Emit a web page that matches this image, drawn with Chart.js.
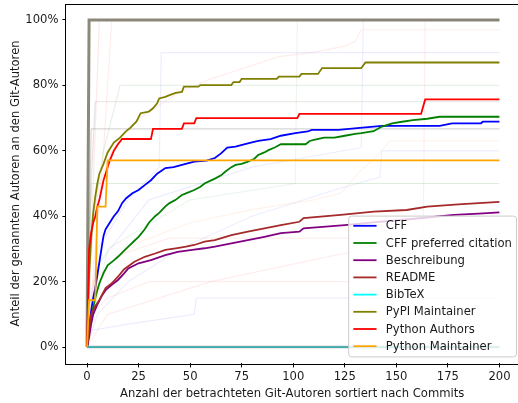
<!DOCTYPE html>
<html>
<head>
<meta charset="utf-8">
<script src="https://cdn.jsdelivr.net/npm/chart.js@4.4.0/dist/chart.umd.min.js"></script>
<style>
html, body { margin: 0; padding: 0; background: #fff; }
</style>
</head>
<body>
<canvas id="chart" width="518" height="403"></canvas>
<script>
// axis ticks
var xTicks = [0, 25, 50, 75, 100, 125, 150, 175, 200];
var yTicks = [0, 20, 40, 60, 80, 100];

var names = ["CFF", "CFF preferred citation", "Beschreibung", "README", "BibTeX",
             "PyPI Maintainer", "Python Authors", "Python Maintainer"];
var colors = ["#0000ff", "#008000", "#800080", "#a52a2a", "#00ffff",
              "#808000", "#ff0000", "#ffa500"];

// [authors, percent] breakpoints
var cff = [[0,0],[1,6],[2,11],[3,15],[4,18],[5,22],[6,26],[7,30],[8,34],[9,36],[11,38],[13,40],
  [15,41.5],[17,44],[19,45.5],[22,47],[25,48],[28,49.5],[31,51],[34,53],[38,54.7],[42,55],
  [46,55.7],[52,56.7],[58,57],[62,57.8],[65,59.2],[68,61],[72,61.3],[78,62.3],[83,63],
  [89,63.6],[94,64.6],[101,65.4],[107,65.9],[109,66.4],[122,66.4],[131,66.9],[143,67.6],
  [171,67.6],[177,68.4],[191,68.4],[192,68.9],[200,68.9]];
var cffPreferred = [[0,0],[1,5],[2,9],[3,12],[4,15],[5,17.4],[6,19.5],[8,22.6],[10,25],[13,26.5],
  [15,27.6],[18,29.5],[20,30.7],[23,32.5],[25,33.7],[28,36],[30,38],[33,40],[35,41],[38,43],
  [40,44],[43,45],[46,46.5],[48,47],[52,48],[55,49],[57,50],[62,51.5],[65,52.5],[67,53.6],
  [70,55],[72,55.7],[75,56],[78,56.7],[81,57.5],[83,58.7],[86,59.5],[88,60.2],[91,61],
  [94,62],[106,62],[108,63],[110,63.3],[115,64],[120,64],[125,64.6],[130,65.2],[133,65.4],
  [139,66],[143,67.4],[148,68.4],[152,68.8],[158,69.4],[165,69.8],[171,70.4],[200,70.4]];
var beschreibung = [[0,0],[1,3],[2,7],[3,10],[5,13],[7,15.5],[9,17.4],[12,19],[15,20.5],
  [18,22.5],[20,24],[25,25.6],[31,26.6],[38,28.1],[44,29.1],[51,29.7],[57,30.2],[62,30.7],
  [70,31.7],[78,32.7],[86,33.7],[94,34.8],[103,35.3],[105,36.3],[125,37.3],[140,38.2],
  [155,39],[165,39.6],[178,40.4],[190,40.8],[200,41.2]];
var readme = [[0,0],[1,5],[2,10],[4,12.5],[6,14.4],[9,18],[12,19.5],[15,21.5],[18,23.8],
  [23,26.1],[28,27.6],[33,28.6],[38,29.7],[43,30.2],[48,30.7],[52,31.2],[57,32.2],[62,32.7],
  [70,34.2],[78,35.3],[86,36.3],[94,37.3],[103,38.3],[105,39.4],[123,40.4],[139,41.4],
  [155,41.9],[165,42.9],[180,43.6],[200,44.4]];
var bibtex = [[0,0],[200,0]];
var pypiMaintainer = [[0,0],[1,22],[2,33],[3,41],[4,46],[5,50],[6,53],[8,56],[10,59.5],[13,62.5],
  [16,64],[19,66],[21,67],[24,69],[26,71.5],[30,72],[32,73],[34,74.5],[35,76],[38,76.5],
  [40,77],[43,77.7],[46,78],[47,79.6],[54,79.6],[55,80.1],[70,80.1],[71,81],[74,81],[75,82],
  [92,82],[93,82.7],[103,82.7],[104,83.5],[112,83.5],[114,85.3],[133,85.3],[135,87],[200,87]];
var pythonAuthors = [[0,0],[1,30],[2,35],[3,38],[4,40],[5,43],[6,45],[7,48],[8,51],[9,53],
  [10,55],[11,57],[13,60],[15,62],[17,63.6],[31,63.6],[32,66.7],[46,66.7],[47,68.4],[52,68.4],
  [53,70],[102,70],[103,71.3],[162,71.3],[164,75.7],[200,75.7]];
var pythonMaintainer = [[0,0],[1,14.3],[4,14.3],[5,42.9],[9,42.9],[10,57.1],[200,57.1]];
var mainSeries = [cff, cffPreferred, beschreibung, readme, bibtex, pypiMaintainer, pythonAuthors, pythonMaintainer];

// faint per-project lines in the background
var faintLines = [
  [[0,0],[1,100],[200,100]],
  [[0,0],[2,66.7],[200,66.7]],
  [[0,0],[2,50],[4,75],[200,75]],
  [[0,0],[1,25],[2,50],[200,50]],
  [[0,0],[3,40],[8,60],[16,80],[200,80]],
  [[0,0],[2,33],[6,50],[12,60],[20,67],[30,72],[45,78],[60,82],[75,85],[93,88.8],[109,90],[125,92],[130,93.4],[133,97],[200,97]],
  [[0,0],[3,15],[10,25],[25,32],[50,38],[80,42],[110,45],[123,47],[132,53.5],[140,58],[147,63],[200,63]],
  [[0,0],[5,10],[20,20],[45,30],[80,40],[120,48],[142,52],[143,60],[200,60]],
  [[0,0],[1,5],[20,7],[52,10],[53,15],[200,15]],
  [[0,0],[2,10],[10,15],[30,20],[200,20]],
  [[0,0],[3,20],[15,28],[40,33.3],[200,33.3]],
  [[0,0],[10,10],[60,20],[120,28],[163,33],[164,100],[200,100]],
  [[0,0],[5,25],[30,45],[80,55],[133,61],[134,100],[200,100]],
  [[0,0],[10,30],[50,45],[101,50],[102,100],[200,100]],
  [[0,0],[5,30],[20,45],[35,55],[36,90],[200,90]],
  [[0,0],[3,50],[6,100],[200,100]],
  [[0,0],[8,60],[12,100],[200,100]],
  [[0,0],[200,0]]
];
var faintColors = [
  "rgba(128,124,108,0.9)", "rgba(120,120,120,0.3)", "rgba(120,120,110,0.2)", "rgba(0,128,0,0.14)",
  "rgba(0,128,0,0.1)", "rgba(255,80,60,0.1)", "rgba(255,140,60,0.1)", "rgba(0,0,255,0.07)",
  "rgba(0,0,255,0.08)", "rgba(255,0,0,0.07)", "rgba(255,0,0,0.07)", "rgba(255,0,0,0.07)",
  "rgba(0,0,255,0.07)", "rgba(0,128,0,0.07)", "rgba(0,0,255,0.07)", "rgba(255,0,0,0.09)",
  "rgba(255,0,0,0.08)", "rgba(110,110,110,0.55)"
];

var fontSize = 11.6;
var font = { family: "'DejaVu Sans'", size: fontSize };
var textColor = "#1a1a1a";

function toPoints(arr) {
  return arr.map(function (p) { return { x: p[0], y: p[1] }; });
}

var datasets = [];
faintLines.forEach(function (line, i) {
  var last = i === faintLines.length - 1;
  datasets.push({
    label: "_bg" + i,
    data: toPoints(line),
    borderColor: faintColors[i],
    borderWidth: i === 0 ? 3 : (last ? 2.5 : 1.2),
    pointRadius: 0,
    fill: false,
    order: last ? 3.5 : (i === 0 ? 20 : 30)
  });
});
mainSeries.forEach(function (s, i) {
  datasets.push({
    label: names[i],
    data: toPoints(s),
    borderColor: colors[i],
    backgroundColor: colors[i],
    borderWidth: 1.8,
    pointRadius: 0,
    fill: false,
    order: 8 - i
  });
});

var frame = {
  id: "frame",
  afterDraw: function (chart) {
    var a = chart.chartArea, ctx = chart.ctx;
    ctx.save();
    ctx.strokeStyle = "#000";
    ctx.lineWidth = 1;
    ctx.strokeRect(Math.round(a.left) - 0.5, Math.round(a.top) + 0.5, a.right - a.left + 2, Math.round(a.bottom - a.top));
    ctx.restore();
  }
};

var legendBox = {
  id: "legendBox",
  afterDraw: function (chart) {
    var a = chart.chartArea, ctx = chart.ctx;
    ctx.save();
    ctx.font = fontSize + "px 'DejaVu Sans'";
    var maxW = 0;
    names.forEach(function (n) { maxW = Math.max(maxW, ctx.measureText(n).width); });
    var pad = 0.4 * fontSize, handle = 2 * fontSize, gap = 0.8 * fontSize, row = 17.2;
    var w = pad + handle + gap + maxW + pad;
    var h = 9.7 + (names.length - 1) * row + 10.7;
    var right = 516.5, bottom = a.bottom - 6.5;
    var left = right - w, top = bottom - h;
    ctx.beginPath();
    ctx.roundRect(left, top, w, h, 3);
    ctx.fillStyle = "rgba(255,255,255,0.8)";
    ctx.fill();
    ctx.strokeStyle = "#cccccc";
    ctx.lineWidth = 1;
    ctx.stroke();
    ctx.textBaseline = "middle";
    ctx.fillStyle = textColor;
    names.forEach(function (n, i) {
      var y = top + 9.7 + i * row;
      ctx.strokeStyle = colors[i];
      ctx.lineWidth = 1.8;
      ctx.beginPath();
      ctx.moveTo(left + pad, y);
      ctx.lineTo(left + pad + handle, y);
      ctx.stroke();
      ctx.fillText(n, left + pad + handle + gap, y + 0.5);
    });
    ctx.restore();
  }
};

var ctx = document.getElementById("chart").getContext("2d");
var chart = new Chart(ctx, {
  type: "line",
  data: { datasets: datasets },
  options: {
    responsive: false,
    animation: false,
    devicePixelRatio: 1,
    layout: { autoPadding: false, padding: { top: 3.6, right: 0, left: 0, bottom: 0 } },
    plugins: { legend: { display: false }, tooltip: { enabled: false } },
    elements: { line: { tension: 0 } },
    scales: {
      x: {
        type: "linear",
        min: -10,
        max: 209,
        afterBuildTicks: function (s) { s.ticks = xTicks.map(function (v) { return { value: v }; }); },
        afterFit: function (s) { s.height = 39.6; s.paddingLeft = 0; s.paddingRight = 0; },
        ticks: { font: font, color: textColor, padding: 3, maxRotation: 0 },
        grid: { drawOnChartArea: false, drawTicks: true, tickLength: 4, color: "#000" },
        border: { display: false },
        title: { display: true, text: "Anzahl der betrachteten Git-Autoren sortiert nach Commits",
                 font: font, color: textColor, padding: { top: 2, bottom: 2 } }
      },
      y: {
        type: "linear",
        min: -5,
        max: 105,
        afterBuildTicks: function (s) { s.ticks = yTicks.map(function (v) { return { value: v }; }); },
        afterFit: function (s) { s.width = 66.4; s.paddingTop = 0; s.paddingBottom = 0; },
        ticks: { font: font, color: textColor, padding: 4, callback: function (v) { return v + "%"; } },
        grid: { drawOnChartArea: false, drawTicks: true, tickLength: 4, color: "#000" },
        border: { display: false },
        title: { display: true, text: "Anteil der genannten Autoren an den Git-Autoren",
                 font: font, color: textColor, padding: { top: 9, bottom: 9 } }
      }
    }
  },
  plugins: [frame, legendBox]
});
</script>
</body>
</html>
